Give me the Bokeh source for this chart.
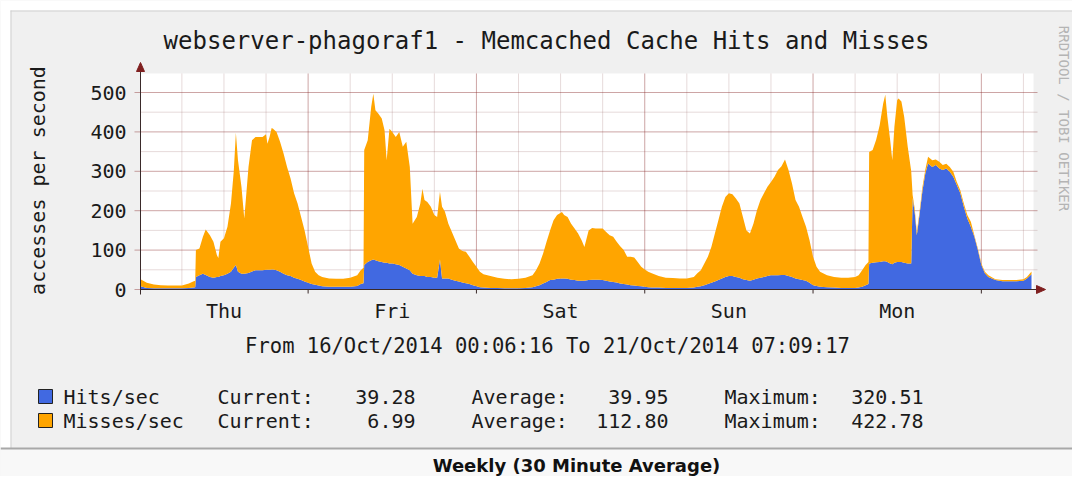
import numpy as np
from bokeh.plotting import figure
from bokeh.models import Range1d, ColumnDataSource
from bokeh.core.properties import value
from bokeh.embed import file_html
from bokeh.resources import INLINE

# ---------------- data ----------------
hours = [0.1, 1, 2, 3, 4, 5, 6, 7, 7.6, 7.9, 8.0, 8.5, 9, 9.4, 10, 10.5, 11, 11.2, 11.5, 12,
         12.5, 13, 13.4, 13.7, 14, 14.5, 14.9, 15.5, 16, 16.5, 17, 17.5, 18, 18.2, 18.5, 18.8,
         19, 19.5, 20, 20.5, 21, 21.5, 22, 22.5, 23, 23.5, 24, 24.5, 25, 25.5, 26, 27, 28, 29,
         30, 31, 31.5, 31.9, 32.0, 32.5, 33, 33.3, 33.6, 34, 34.5, 34.9, 35.2, 35.6, 36, 36.5,
         37, 37.5, 38, 38.5, 38.9, 39.5, 40, 40.3, 40.6, 41, 41.5, 42, 42.4, 42.8, 43.1, 43.5,
         44, 44.5, 45, 45.5, 46, 46.5, 47, 47.5, 48, 48.5, 49, 50, 51, 52, 53, 54, 55, 56, 56.5,
         57, 57.5, 58, 58.5, 59, 59.5, 60.2, 60.5, 61, 61.5, 62, 62.5, 63, 63.4, 64, 64.5, 65,
         65.5, 66, 66.5, 67, 67.5, 68, 68.5, 69, 69.5, 70, 70.5, 71, 71.5, 72, 72.5, 73, 74, 75,
         76, 77, 78, 79, 79.5, 80, 80.5, 81, 81.5, 82, 82.5, 83, 83.5, 84, 84.5, 85, 85.5, 86,
         86.5, 87, 87.5, 88, 88.5, 89, 89.5, 90, 90.5, 91, 91.5, 92, 92.5, 93, 93.5, 94, 94.5,
         95, 95.5, 96, 96.5, 97, 98, 99, 100, 101, 102, 102.5, 103, 103.5, 103.9, 104.0, 104.5,
         105, 105.5, 106, 106.3, 106.6, 107, 107.3, 107.6, 108, 108.2, 108.6, 109, 109.5, 110,
         110.2, 110.5, 110.8, 111.2, 111.6, 112, 112.4, 113, 113.5, 114, 114.5, 115, 115.5, 116,
         116.5, 117, 117.5, 118, 118.5, 119, 119.5, 120, 120.5, 121, 122, 123, 124, 125, 126,
         126.5, 127.15]

hits = [8, 4, 3, 3, 3, 3, 3, 4, 5, 6, 32, 36, 40, 37, 32, 30, 32, 32, 34, 36,
        40, 45, 55, 62, 45, 40, 40, 42, 46, 49, 49, 49, 50, 50, 50, 51,
        51, 49, 45, 40, 36, 34, 30, 27, 24, 20, 17, 14, 12, 10, 8, 7, 7, 7,
        7, 9, 14, 16, 62, 70, 74, 76, 74, 72, 70, 68, 68, 66, 66, 64,
        62, 58, 53, 49, 40, 36, 34, 34, 34, 32, 32, 30, 30, 76, 28, 28,
        28, 25, 22, 20, 18, 16, 14, 11, 8, 6, 5, 4, 4, 3, 3, 3, 4, 6, 8,
        11, 15, 19, 24, 25, 27, 28, 28, 27, 25, 24, 22, 22, 22, 24, 25, 25,
        25, 24, 22, 20, 19, 18, 15, 14, 13, 11, 10, 9, 8, 7, 6, 5, 5, 4,
        4, 4, 4, 5, 7, 8, 11, 14, 17, 20, 24, 28, 32, 34, 34, 32, 30, 26,
        24, 22, 25, 28, 30, 32, 34, 36, 36, 36, 37, 37, 34, 32, 28, 26, 24,
        22, 17, 11, 9, 7, 6, 5, 4, 4, 4, 5, 7, 11, 14, 66, 68,
        69, 70, 72, 72, 70, 66, 64, 68, 70, 70, 70, 68, 66, 66,
        232, 195, 138, 192, 250, 294, 320, 311, 316, 307, 303, 307, 299, 286,
        265, 244, 210, 180, 159, 134, 100, 62, 41, 32, 24, 21, 21, 21, 22,
        28, 39]

misses = [18, 13, 10, 8, 7, 7, 7, 11, 15, 16, 68, 68, 94, 115, 106, 91, 55, 48, 87, 94,
          119, 173, 245, 336, 283, 220, 140, 269, 333, 338, 338, 338, 344, 320, 337, 359,
          357, 351, 330, 305, 275, 248, 214, 191, 160, 130, 91, 52, 33, 26, 24, 21, 20, 20,
          23, 27, 35, 39, 292, 309, 390, 421, 381, 375, 364, 336, 260, 342, 334, 323,
          338, 304, 322, 262, 127, 148, 184, 222, 193, 190, 178, 159, 154, 172, 182, 170,
          139, 121, 103, 84, 80, 80, 69, 59, 50, 39, 34, 30, 26, 24, 23, 24, 26, 30, 41,
          55, 76, 102, 126, 151, 162, 169, 161, 157, 142, 131, 120, 103, 86, 126, 131, 130,
          130, 131, 124, 118, 115, 103, 95, 86, 70, 72, 71, 61, 50, 44, 39, 36, 29, 26,
          25, 24, 24, 27, 34, 41, 55, 69, 91, 122, 152, 182, 203, 210, 208, 199, 188, 158,
          126, 120, 142, 173, 197, 212, 227, 237, 250, 267, 276, 293, 269, 237, 199, 184, 160,
          137, 108, 72, 49, 38, 30, 27, 26, 26, 28, 31, 42, 51, 56, 283, 286,
          311, 347, 400, 422, 368, 313, 264, 345, 411, 415, 407, 370, 296, 234,
          8, 10, 8, 8, 10, 9, 17, 17, 14, 17, 13, 12, 12, 13,
          8, 8, 8, 9, 13, 4, 4, 4, 4, 4, 2, 3, 3, 3, 4,
          4, 7]

day_ticks = [12, 36, 60, 84, 108]
day_labels = ["Thu", "Fri", "Sat", "Sun", "Mon"]
midnights = [24, 48, 72, 96, 120]
six_hours = [6, 12, 18, 30, 36, 42, 54, 60, 66, 78, 84, 90, 102, 108, 114, 126]
y_major = [0, 100, 200, 300, 400, 500]
y_minor = [50, 150, 250, 350, 450]
y_tick_labels = ["0", "100", "200", "300", "400", "500"]

series_names = ["Hits/sec", "Misses/sec"]
series_colors = ["#4169E1", "#FFA500"]
current_vals = ["39.28", "6.99"]
average_vals = ["39.95", "112.80"]
maximum_vals = ["320.51", "422.78"]

title_text = "webserver-phagoraf1 - Memcached Cache Hits and Misses"
y_axis_text = "accesses per second"
range_text = "From 16/Oct/2014 00:06:16 To 21/Oct/2014 07:09:17"
footer_text = "Weekly (30 Minute Average)"
vendor_text = "RRDTOOL / TOBI OETIKER"

# ---------------- layout constants (picture pixels -> data through the scales) ----------------
W, H = 1072, 476
MONO = "DejaVu Sans Mono"
TXT = "#1a1a1a"
BACK = "#f0f0f0"
MGRID, MGRID_A = "#821E1E", 0.4
GRID, GRID_A = "#a07070", 0.25
AXC = "#3a2a2a"
HEAD = "#7f1f1f"
PXH = 7.013     # pixels per hour
PXV = 0.394     # pixels per (access/s)


def xh(px):
    return 0.1 + (px - 140) / PXH


def yv(py):
    return (289 - py) / PXV


p = figure(width=W, height=H, output_backend="svg", toolbar_location=None,
           x_range=Range1d(xh(0), xh(W)), y_range=Range1d(yv(H), yv(0)),
           x_axis_type=None, y_axis_type=None, min_border=0)
p.grid.visible = False
p.outline_line_color = None
p.background_fill_color = BACK
p.border_fill_color = BACK


def add_text(xs, ys, texts, size="20px", align="left", font=MONO,
             style="normal", color=TXT, angle=0.0):
    p.text(x=xs, y=ys, text=texts, text_font=value(font), text_font_size=size,
           text_align=align, text_baseline="middle", text_font_style=style,
           text_color=color, angle=angle)


# outer white margin + panel edge
p.quad(left=[xh(0), xh(0)], right=[xh(W), xh(10)], top=[yv(0), yv(0)],
       bottom=[yv(10), yv(448)], fill_color="#ffffff", line_color=None)
p.segment(x0=[xh(10), xh(10.5)], y0=[yv(10.5), yv(10)], x1=[xh(W), xh(10.5)],
          y1=[yv(10.5), yv(448)], line_color="#d0d0d0", line_width=1)

# white graph canvas
p.quad(left=[0.1], right=[xh(1033)], bottom=[0], top=[yv(73)], fill_color="#ffffff",
       line_color=None)

# grid (minor first, then major; major horizontals stick out left as ticks)
p.segment(x0=[0.1] * len(y_minor), y0=y_minor, x1=[xh(1037)] * len(y_minor), y1=y_minor,
          line_color=GRID, line_alpha=GRID_A, line_width=1)
p.segment(x0=six_hours, y0=[0] * len(six_hours), x1=six_hours, y1=[yv(73)] * len(six_hours),
          line_color=GRID, line_alpha=GRID_A, line_width=1)
p.segment(x0=[xh(134)] * len(y_major), y0=y_major, x1=[xh(1037)] * len(y_major), y1=y_major,
          line_color=MGRID, line_alpha=MGRID_A, line_width=1)
p.segment(x0=midnights, y0=[0] * len(midnights), x1=midnights, y1=[yv(73)] * len(midnights),
          line_color=MGRID, line_alpha=MGRID_A, line_width=1)

# stacked areas: hits, then misses on top
src = ColumnDataSource(dict(x=hours, zero=[0] * len(hours), hits=hits,
                            total=[h + m for h, m in zip(hits, misses)]))
p.varea(x="x", y1="zero", y2="hits", source=src, fill_color=series_colors[0])
p.varea(x="x", y1="hits", y2="total", source=src, fill_color=series_colors[1])

# axes with arrow heads, and small day ticks below the x axis
p.segment(x0=[0.1, 0.1], y0=[yv(294), 0], x1=[0.1, xh(1038)], y1=[yv(64), 0],
          line_color=AXC, line_width=1)
p.segment(x0=midnights, y0=[0] * len(midnights), x1=midnights,
          y1=[yv(293)] * len(midnights), line_color=AXC, line_width=1)
p.patches(xs=[[xh(136), xh(144), xh(140)], [xh(1036), xh(1036), xh(1045)]],
          ys=[[yv(71), yv(71), yv(62)], [yv(285), yv(293), 0]],
          fill_color=HEAD, line_color=HEAD)

# axis texts
add_text([xh(126)] * len(y_major), y_major, y_tick_labels, align="right")
add_text(day_ticks, [yv(310)] * len(day_ticks), day_labels, align="center")
add_text([xh(37)], [yv(180)], [y_axis_text], align="center", angle=np.pi / 2)

# title, period, watermark
add_text([xh(546)], [yv(40)], [title_text], size="24px", align="center")
add_text([xh(547)], [yv(345)], [range_text], size="20.5px", align="center")
add_text([xh(1063)], [yv(118)], [vendor_text], size="14px", align="center",
         color="#b4b4b4", angle=-np.pi / 2)

# legend table
row_y = [yv(396), yv(420)]
p.quad(left=[xh(38)] * 2, right=[xh(52)] * 2,
       top=[y + 7 / PXV for y in row_y], bottom=[y - 7 / PXV for y in row_y],
       fill_color=series_colors, line_color="#222222", line_width=1)
add_text([xh(63)] * 2, row_y, series_names)
add_text([xh(217)] * 2, row_y, ["Current:"] * 2)
add_text([xh(415)] * 2, row_y, current_vals, align="right")
add_text([xh(471)] * 2, row_y, ["Average:"] * 2)
add_text([xh(668)] * 2, row_y, average_vals, align="right")
add_text([xh(724)] * 2, row_y, ["Maximum:"] * 2)
add_text([xh(923)] * 2, row_y, maximum_vals, align="right")

# bottom band with footer
p.quad(left=[xh(0)], right=[xh(W)], top=[yv(448)], bottom=[yv(H)],
       fill_color="#f8f8f8", line_color=None)
p.segment(x0=[xh(0)], y0=[yv(448)], x1=[xh(W)], y1=[yv(448)],
          line_color="#a8a8a8", line_width=2)
add_text([xh(576)], [yv(465)], [footer_text], size="18px", align="center",
         font="DejaVu Sans", style="bold", color="#111111")

open("out.html", "w").write(file_html(p, INLINE))
